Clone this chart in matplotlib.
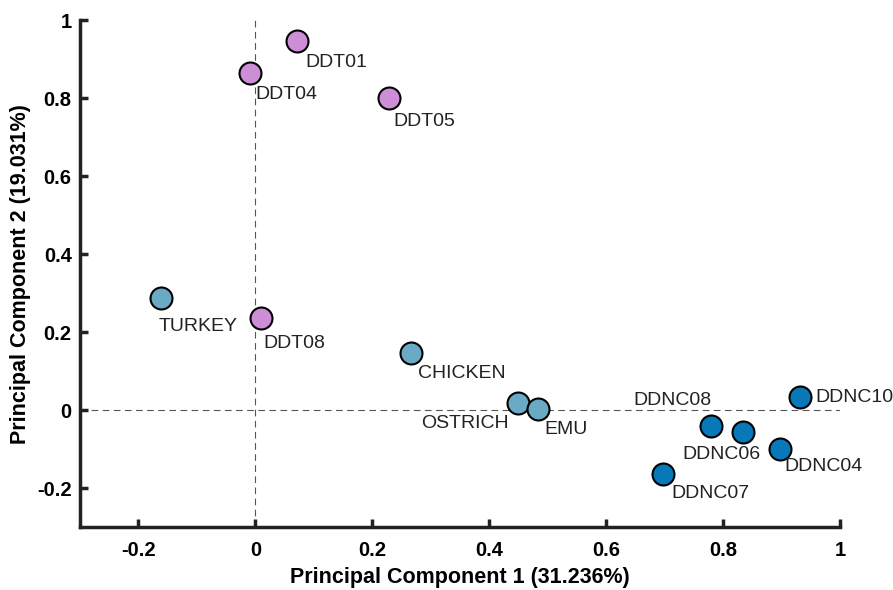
import matplotlib
matplotlib.use('Agg')
import matplotlib.pyplot as plt

plt.rcParams['font.family'] = ['Liberation Sans', 'DejaVu Sans']

# PCA scores
ddt_names = ['DDT01', 'DDT04', 'DDT05', 'DDT08']
ddt_pc1 = [0.072, -0.009, 0.229, 0.009]
ddt_pc2 = [0.946, 0.864, 0.800, 0.236]

bird_names = ['TURKEY', 'CHICKEN', 'OSTRICH', 'EMU']
bird_pc1 = [-0.161, 0.267, 0.450, 0.484]
bird_pc2 = [0.287, 0.146, 0.018, 0.003]

ddnc_names = ['DDNC08', 'DDNC06', 'DDNC04', 'DDNC07', 'DDNC10']
ddnc_pc1 = [0.779, 0.834, 0.897, 0.697, 0.932]
ddnc_pc2 = [-0.041, -0.056, -0.100, -0.164, 0.033]

x_ticks = [-0.2, 0, 0.2, 0.4, 0.6, 0.8, 1]
y_ticks = [-0.2, 0, 0.2, 0.4, 0.6, 0.8, 1]

# label placement: (dx, dy) in pixels, ha, va
label_pos = {
    'DDT01': (8, -13, 'left', 'top'),
    'DDT04': (5, -13, 'left', 'top'),
    'DDT05': (4, -15, 'left', 'top'),
    'DDT08': (3, -17, 'left', 'top'),
    'TURKEY': (-3, -20, 'left', 'top'),
    'CHICKEN': (7, -12, 'left', 'top'),
    'OSTRICH': (-10, -12, 'right', 'top'),
    'EMU': (6, -12, 'left', 'top'),
    'DDNC08': (1, 17, 'right', 'bottom'),
    'DDNC06': (-21, -14, 'center', 'top'),
    'DDNC04': (5, -9, 'left', 'top'),
    'DDNC07': (9, -11, 'left', 'top'),
    'DDNC10': (15, 0, 'left', 'center'),
}
PX = 0.72  # pixels -> points at dpi 100

fig = plt.figure(figsize=(8.93, 5.90), dpi=100)
ax = fig.add_axes([0.0896, 0.1068, 0.851, 0.859])

ax.plot([0, 0], [-0.3, 1], ls=(0, (6, 4)), color='#555555', lw=0.8, zorder=1)
ax.plot([-0.3, 1], [0, 0], ls=(0, (6, 4)), color='#555555', lw=0.8, zorder=1)

groups = [
    (ddt_names, ddt_pc1, ddt_pc2, '#CC8FD6'),
    (bird_names, bird_pc1, bird_pc2, '#6AAAC4'),
    (ddnc_names, ddnc_pc1, ddnc_pc2, '#0878B8'),
]
for names, xs, ys, col in groups:
    ax.scatter(xs, ys, s=250, c=col, edgecolors='black', linewidths=1.5, zorder=3)
    for n, x, y in zip(names, xs, ys):
        dx, dy, ha, va = label_pos[n]
        ax.annotate(n, (x, y), xytext=(dx * PX, dy * PX), textcoords='offset points',
                    ha=ha, va=va, fontsize=14, color='#222222', zorder=4)

ax.set_xlim(-0.3, 1)
ax.set_ylim(-0.3, 1)
ax.set_xticks(x_ticks)
ax.set_yticks(y_ticks)
fmt = lambda v: '0' if v == 0 else ('1' if v == 1 else f'{v:.1f}')
ax.set_xticklabels([fmt(v) for v in x_ticks], fontweight='bold', fontsize=14.5)
ax.set_yticklabels([fmt(v) for v in y_ticks], fontweight='bold', fontsize=14.5)

for side in ['top', 'right']:
    ax.spines[side].set_visible(False)
for side in ['left', 'bottom']:
    ax.spines[side].set_linewidth(2.5)
    ax.spines[side].set_color('#222222')
ax.tick_params(direction='in', length=6, width=2.5, color='#222222')
ax.tick_params(axis='x', pad=10)
ax.tick_params(axis='y', pad=6)

ax.set_xlabel('Principal Component 1 (31.236%)', fontweight='bold', fontsize=15.5, labelpad=5)
ax.set_ylabel('Principal Component 2 (19.031%)', fontweight='bold', fontsize=15.5, labelpad=4)

fig.savefig('out.png', dpi=100)
